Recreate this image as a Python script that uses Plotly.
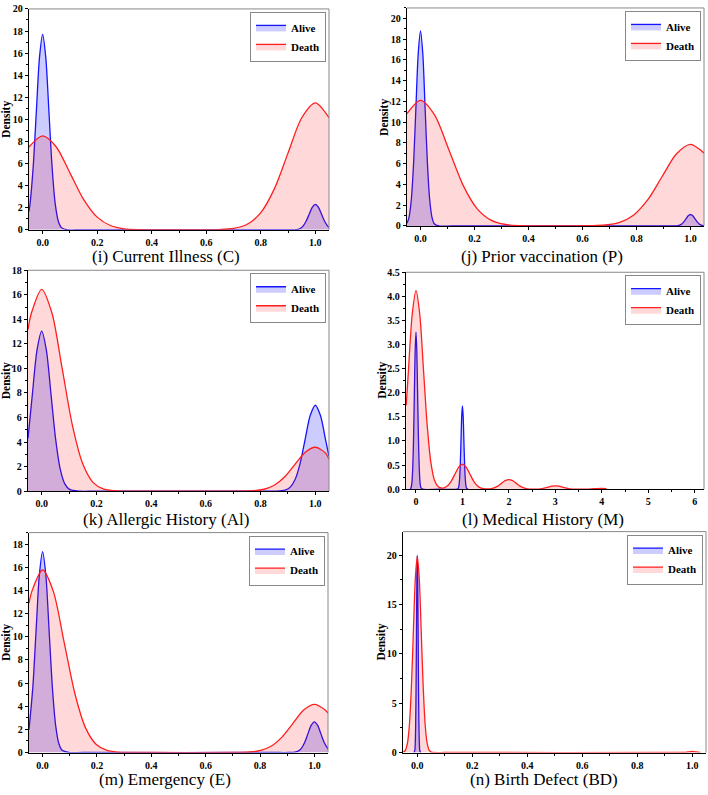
import plotly.graph_objects as go

W, H = 708, 795

# ---------------- data ----------------
C_alive_x = [-0.05, -0.046, -0.0345, -0.023, -0.0115, 0.0, 0.0115, 0.023, 0.0345, 0.046, 0.0575, 0.069, 0.092, 0.15,
             0.85, 0.908, 0.931, 0.9425, 0.954, 0.9655, 0.977, 0.9885, 1.0, 1.0115, 1.023, 1.0345, 1.046, 1.05]
C_alive_y = [1.67, 2.39, 5.75, 10.74, 15.62, 17.7, 15.62, 10.74, 5.75, 2.39, 0.78, 0.2, 0.0, 0.0,
             0.0, 0.0, 0.026, 0.10, 0.31, 0.75, 1.39, 2.03, 2.3, 2.03, 1.39, 0.75, 0.31, 0.22]
C_death_x = [-0.05, 0.0, 0.05, 0.1, 0.15, 0.2, 0.25, 0.3, 0.35, 0.4, 0.5, 0.6, 0.65, 0.7, 0.75, 0.8, 0.85, 0.9, 0.95, 1.0, 1.05]
C_death_y = [7.5, 8.5, 7.5, 5.16, 2.76, 1.15, 0.37, 0.094, 0.019, 0.003, 0.0, 0.004, 0.025, 0.128, 0.505, 1.56, 3.73, 6.97, 10.15, 11.5, 10.15]

P_alive_x = [-0.05, -0.0425, -0.034, -0.0255, -0.017, -0.0085, 0.0, 0.0085, 0.017, 0.0255, 0.034, 0.0425, 0.051, 0.068, 0.12,
             0.88, 0.932, 0.949, 0.9575, 0.966, 0.9745, 0.983, 0.9915, 1.0, 1.0085, 1.017, 1.0255, 1.034, 1.0425, 1.05]
P_alive_y = [0.25, 0.83, 2.54, 6.10, 11.40, 16.59, 18.8, 16.59, 11.40, 6.10, 2.54, 0.83, 0.21, 0.0, 0.0,
             0.0, 0.0, 0.012, 0.048, 0.149, 0.357, 0.667, 0.971, 1.1, 0.971, 0.667, 0.357, 0.149, 0.048, 0.014]
P_death_x = [-0.05, 0.0, 0.0525, 0.105, 0.1575, 0.21, 0.2625, 0.315, 0.3675, 0.42, 0.5, 0.58, 0.6325, 0.685, 0.7375, 0.79,
             0.8425, 0.895, 0.9475, 1.0, 1.05]
P_death_y = [10.81, 12.1, 10.68, 7.34, 3.93, 1.64, 0.53, 0.134, 0.027, 0.004, 0.0, 0.002, 0.017, 0.087, 0.345, 1.06,
             2.55, 4.76, 6.93, 7.85, 7.01]

AL_alive_x = [-0.05, -0.034, -0.017, 0.0, 0.017, 0.034, 0.051, 0.068, 0.085, 0.102, 0.136, 0.2,
              0.8, 0.852, 0.889, 0.9075, 0.926, 0.9445, 0.963, 0.9815, 1.0, 1.0185, 1.037, 1.05]
AL_alive_y = [4.3, 7.91, 11.52, 13.05, 11.52, 7.91, 4.24, 1.77, 0.57, 0.145, 0.004, 0.0,
              0.0, 0.002, 0.078, 0.31, 0.95, 2.27, 4.25, 6.18, 7.0, 6.18, 4.25, 2.85]
AL_death_x = [-0.05, -0.0375, 0.0, 0.0375, 0.075, 0.1125, 0.15, 0.1875, 0.225, 0.2625, 0.3, 0.4,
              0.7, 0.775, 0.8125, 0.85, 0.8875, 0.925, 0.9625, 1.0, 1.0375, 1.05]
AL_death_y = [13.17, 14.52, 16.45, 14.52, 9.98, 5.34, 2.23, 0.72, 0.18, 0.036, 0.005, 0.0,
              0.001, 0.04, 0.157, 0.484, 1.16, 2.17, 3.16, 3.58, 3.1, 2.6]

MH_alive_x = [-0.12, -0.105, -0.0875, -0.07, -0.0525, -0.035, -0.0175, 0.0, 0.0175, 0.035, 0.0525, 0.07, 0.0875, 0.105, 0.14, 0.5,
              0.88, 0.91, 0.925, 0.94, 0.955, 0.97, 0.985, 1.0, 1.015, 1.03, 1.045, 1.06, 1.075, 1.09, 1.12]
MH_alive_y = [0.002, 0.036, 0.143, 0.441, 1.06, 1.98, 2.88, 3.26, 2.88, 1.98, 1.06, 0.441, 0.143, 0.036, 0.001, 0.0,
              0.0005, 0.019, 0.076, 0.234, 0.562, 1.05, 1.53, 1.73, 1.53, 1.05, 0.562, 0.234, 0.076, 0.019, 0.0005]
MH_death_x = [-0.21, -0.16, -0.08, 0.0, 0.08, 0.16, 0.24, 0.32, 0.4, 0.48, 0.56, 0.6, 0.68, 0.76, 0.84, 0.92, 1.0,
              1.08, 1.16, 1.24, 1.32, 1.4, 1.5, 1.6, 1.68, 1.76, 1.84, 1.92, 2.0, 2.08, 2.16, 2.24, 2.32, 2.4, 2.5,
              2.6, 2.68, 2.76, 2.84, 2.92, 3.0, 3.08, 3.16, 3.24, 3.32, 3.4, 3.55, 3.68, 3.84, 4.0, 4.1]
MH_death_y = [1.74, 2.50, 3.64, 4.12, 3.64, 2.50, 1.34, 0.557, 0.181, 0.049, 0.021, 0.026, 0.07, 0.169, 0.315, 0.459, 0.52,
              0.459, 0.315, 0.169, 0.07, 0.023, 0.006, 0.009, 0.027, 0.065, 0.121, 0.177, 0.2, 0.177, 0.121, 0.065, 0.027, 0.009, 0.002,
              0.003, 0.009, 0.023, 0.042, 0.062, 0.07, 0.062, 0.042, 0.023, 0.009, 0.003, 0.0, 0.002, 0.009, 0.015, 0.012]

E_alive_x = [-0.05, -0.036, -0.024, -0.012, 0.0, 0.012, 0.024, 0.036, 0.048, 0.06, 0.072, 0.096, 0.15,
             0.85, 0.904, 0.928, 0.94, 0.952, 0.964, 0.976, 0.988, 1.0, 1.012, 1.024, 1.036, 1.05]
E_alive_y = [1.98, 5.63, 10.52, 15.31, 17.35, 15.31, 10.52, 5.63, 2.35, 0.76, 0.19, 0.005, 0.0,
             0.0, 0.001, 0.029, 0.116, 0.359, 0.86, 1.61, 2.34, 2.65, 2.34, 1.61, 0.86, 0.30]
E_death_x = [-0.05, -0.0395, 0.0, 0.0395, 0.079, 0.1185, 0.158, 0.1975, 0.237, 0.2765, 0.316, 0.4,
             0.684, 0.763, 0.8025, 0.842, 0.8815, 0.921, 0.9605, 1.0, 1.0395, 1.05]
E_death_y = [12.9, 13.92, 15.77, 13.92, 9.56, 5.12, 2.13, 0.69, 0.175, 0.035, 0.005, 0.0,
             0.001, 0.046, 0.183, 0.563, 1.35, 2.52, 3.67, 4.16, 3.67, 3.40]

BD_alive_x = [-0.012, -0.009, -0.0075, -0.006, -0.0045, -0.003, -0.0015, 0.0, 0.0015, 0.003, 0.0045, 0.006, 0.0075, 0.009, 0.012]
BD_alive_y = [0.006, 0.22, 0.88, 2.71, 6.49, 12.13, 17.65, 20.0, 17.65, 12.13, 6.49, 2.71, 0.88, 0.22, 0.006]
BD_death_x = [-0.051, -0.0435, -0.03625, -0.029, -0.02175, -0.0145, -0.00725, 0.0, 0.00725, 0.0145, 0.02175, 0.029,
              0.03625, 0.0435, 0.0508, 0.058, 0.1, 0.95, 0.957, 0.971, 0.9855, 1.0, 1.0145, 1.029]
BD_death_y = [0.044, 0.22, 0.87, 2.69, 6.46, 12.07, 17.56, 19.9, 17.56, 12.07, 6.46, 2.69,
              0.87, 0.22, 0.044, 0.006, 0.0, 0.0, 0.0, 0.013, 0.061, 0.1, 0.061, 0.013]

series_names = ["Alive", "Death"]
panel_titles = ["(i) Current Illness (C)", "(j) Prior vaccination (P)", "(k) Allergic History (Al)",
                "(l) Medical History (M)", "(m) Emergency (E)", "(n) Birth Defect (BD)"]
y_axis_label = "Density"

# ---------------- layout / styling ----------------
panels = [
    dict(alive=(C_alive_x, C_alive_y), death=(C_death_x, C_death_y), px=(29, 329, 4, 228),
         xr=[-0.05, 1.05], xd=0.2, xm=0.1, xf=".1f", yr=[0, 20], yd=2, ym=1, yf="d",
         title_pos=(165.5, 255), dens_x=6.5),
    dict(alive=(P_alive_x, P_alive_y), death=(P_death_x, P_death_y), px=(407, 704, 3, 224),
         xr=[-0.05, 1.05], xd=0.2, xm=0.1, xf=".1f", yr=[0, 21], yd=2, ym=1, yf="d",
         title_pos=(542, 255), dens_x=385),
    dict(alive=(AL_alive_x, AL_alive_y), death=(AL_death_x, AL_death_y), px=(28, 329, 269, 493),
         xr=[-0.05, 1.05], xd=0.2, xm=0.1, xf=".1f", yr=[0, 18], yd=2, ym=1, yf="d",
         title_pos=(166, 522), dens_x=6.5),
    dict(alive=(MH_alive_x, MH_alive_y), death=(MH_death_x, MH_death_y), px=(406, 704, 271, 491),
         xr=[-0.215, 6.2], xd=1, xm=0.5, xf="d", yr=[0, 4.5], yd=0.5, ym=0.25, yf=".1f",
         title_pos=(543, 522), dens_x=383),
    dict(alive=(E_alive_x, E_alive_y), death=(E_death_x, E_death_y), px=(29, 328, 535, 758),
         xr=[-0.05, 1.05], xd=0.2, xm=0.1, xf=".1f", yr=[0, 19], yd=2, ym=1, yf="d",
         title_pos=(165, 785), dens_x=6.5),
    dict(alive=(BD_alive_x, BD_alive_y), death=(BD_death_x, BD_death_y), px=(403, 706, 534, 758),
         xr=[-0.052, 1.05], xd=0.2, xm=0.1, xf=".1f", yr=[0, 22.4], yd=5, ym=2.5, yf="d",
         title_pos=(543.5, 785), dens_x=381.5),
]

SERIF = "Liberation Serif"
line_colors = ["rgb(20,20,255)", "rgb(255,30,30)"]
fill_colors = ["rgba(0,0,255,0.2)", "rgba(255,0,0,0.15)"]

fig = go.Figure()
layout = dict(width=W, height=H, margin=dict(l=0, r=0, t=0, b=0),
              paper_bgcolor="white", plot_bgcolor="white", showlegend=True)
annotations = []
shapes = []

for i, p in enumerate(panels):
    n = i + 1
    sx = "" if n == 1 else str(n)
    x0, x1, yt, yb = p["px"]
    dom_x = [x0 / W, x1 / W]
    dom_y = [1 - yb / H, 1 - yt / H]
    legend_name = "legend" if n == 1 else f"legend{n}"
    for k, key in enumerate(["alive", "death"]):
        xs, ys = p[key]
        fig.add_trace(go.Scatter(
            x=xs, y=ys, mode="lines", name=series_names[k],
            line=dict(color=line_colors[k], width=1.3, shape="spline", smoothing=0.8),
            fill="tozeroy", fillcolor=fill_colors[k],
            xaxis="x" + sx, yaxis="y" + sx, legend=legend_name, hoverinfo="skip"))
    axis_common = dict(showline=True, linecolor="black", linewidth=1.3, mirror=False,
                       ticks="outside", ticklen=3, tickwidth=1, tickcolor="black",
                       showgrid=False, zeroline=False, fixedrange=True,
                       tickfont=dict(family=SERIF, size=10, color="black", weight="bold"))
    layout["xaxis" + sx] = dict(axis_common, domain=dom_x, anchor="y" + sx, range=p["xr"],
                                tick0=0, dtick=p["xd"], tickformat=p["xf"],
                                minor=dict(ticks="outside", ticklen=2, dtick=p["xm"], tick0=0, tickcolor="black"))
    layout["yaxis" + sx] = dict(axis_common, domain=dom_y, anchor="x" + sx, range=p["yr"],
                                tick0=0, dtick=p["yd"], tickformat=p["yf"],
                                minor=dict(ticks="outside", ticklen=2, dtick=p["ym"], tick0=0, tickcolor="black"))
    layout[legend_name] = dict(x=(x1 - 3) / W, y=1 - (yt + 3) / H, xanchor="right", yanchor="top",
                               bgcolor="white", bordercolor="#888888", borderwidth=1,
                               font=dict(family=SERIF, size=11, color="black", weight="bold"),
                               itemwidth=30, tracegroupgap=0)
    # grey top / right frame lines
    shapes.append(dict(type="line", xref=f"x{sx} domain", yref=f"y{sx} domain", x0=0, x1=1, y0=1, y1=1,
                       line=dict(color="#888888", width=1)))
    shapes.append(dict(type="line", xref=f"x{sx} domain", yref=f"y{sx} domain", x0=1, x1=1, y0=0, y1=1,
                       line=dict(color="#888888", width=1)))
    tx, ty = p["title_pos"]
    annotations.append(dict(text=panel_titles[i], x=tx / W, y=1 - ty / H, xref="paper", yref="paper",
                            xanchor="center", yanchor="middle", showarrow=False,
                            font=dict(family=SERIF, size=17, color="black")))
    annotations.append(dict(text=y_axis_label, x=p["dens_x"] / W, y=1 - ((yt + yb) / 2) / H,
                            xref="paper", yref="paper", xanchor="center", yanchor="middle",
                            showarrow=False, textangle=-90,
                            font=dict(family=SERIF, size=11.5, color="black", weight="bold")))

layout["annotations"] = annotations
layout["shapes"] = shapes
fig.update_layout(**layout)
fig.write_html("out.html", config={"displayModeBar": False},
               post_script="document.body.style.margin='0px';document.body.style.overflow='hidden';")
